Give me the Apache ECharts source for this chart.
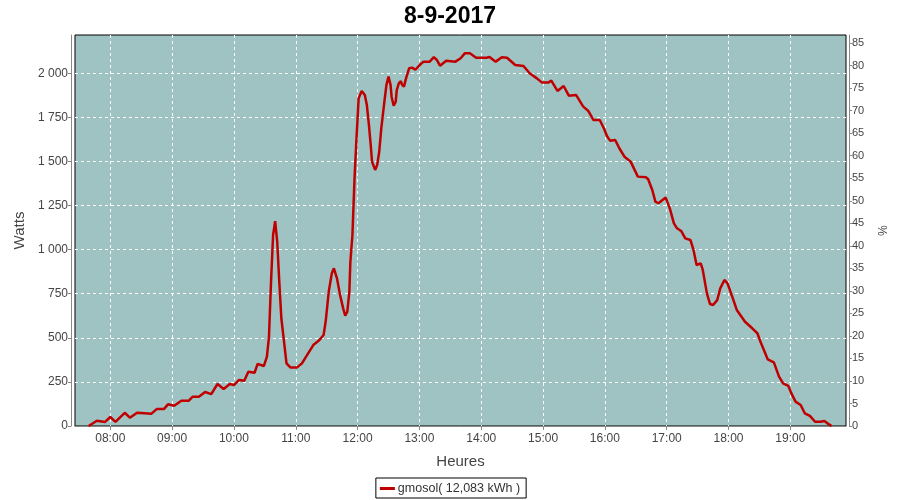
<!DOCTYPE html>
<html>
<head>
<meta charset="utf-8">
<script src="https://cdn.jsdelivr.net/npm/echarts@6/dist/echarts.min.js"></script>
<style>html,body{margin:0;padding:0;background:#fff}#c{width:900px;height:500px}</style>
</head>
<body>
<div id="c"></div>
<script>
var titleText = '8-9-2017';
var seriesName = 'gmosol( 12,083 kWh )';
var day = '2017-09-08';
var xMin = '07:25:45';
var xMax = '19:54:00';
var wattsMax = 2217;
var pctMax = 86.8;
var times = ['07:39','07:47','07:55','08:00','08:05','08:14','08:19','08:26','08:40','08:45','08:52','08:56','09:02','09:09','09:16','09:20','09:26','09:32','09:38','09:44','09:50','09:56','10:00','10:05','10:10','10:14','10:20','10:23','10:29','10:32','10:34','10:36','10:38','10:40','10:42','10:44','10:46','10:49','10:51','10:55','11:01','11:06','11:12','11:17','11:23','11:27','11:29','11:32','11:35','11:37','11:40','11:43','11:46','11:48','11:50','11:52','11:53','11:55','11:57','11:58','11:59','12:00','12:01','12:04','12:07','12:09','12:11','12:13','12:14','12:17','12:19','12:21','12:23','12:26','12:28','12:30','12:32','12:33','12:35','12:37','12:38','12:40','12:42','12:43','12:45','12:47','12:50','12:53','12:56','13:01','13:04','13:10','13:14','13:17','13:20','13:26','13:35','13:40','13:44','13:49','13:55','14:05','14:08','14:14','14:20','14:25','14:33','14:41','14:47','14:54','14:59','15:05','15:08','15:14','15:20','15:25','15:32','15:39','15:44','15:49','15:55','15:59','16:02','16:05','16:10','16:14','16:19','16:25','16:32','16:40','16:42','16:46','16:49','16:52','16:59','17:03','17:07','17:10','17:14','17:18','17:23','17:26','17:29','17:33','17:35','17:39','17:42','17:45','17:49','17:52','17:56','17:59','18:03','18:08','18:16','18:23','18:28','18:31','18:35','18:38','18:44','18:49','18:53','18:58','19:01','19:05','19:10','19:14','19:19','19:24','19:29','19:33','19:36','19:40'];
var watts = [0,30,23,51,23,75,47,75,70,96,96,123,115,143,143,166,166,193,181,238,210,238,232,261,257,308,302,352,340,393,506,818,1083,1162,1045,818,611,459,355,331,331,355,412,459,488,516,591,761,866,894,837,743,667,625,648,761,932,1083,1400,1520,1640,1745,1858,1900,1877,1820,1707,1575,1499,1452,1480,1555,1688,1839,1934,1981,1934,1867,1816,1839,1905,1943,1956,1937,1924,1971,2028,2032,2020,2051,2066,2066,2091,2075,2043,2071,2066,2085,2113,2113,2088,2088,2092,2066,2091,2088,2047,2041,2000,1971,1947,1947,1958,1900,1928,1873,1877,1811,1786,1735,1735,1688,1644,1618,1622,1575,1527,1499,1414,1410,1399,1338,1272,1263,1295,1234,1149,1121,1106,1064,1055,998,913,922,885,752,692,686,714,781,828,809,743,658,591,554,526,478,421,378,361,280,242,227,185,138,119,72,57,24,24,28,15,0];

var data = times.map(function (t, i) { return [day + ' ' + t, watts[i]]; });
var font = 'Liberation Sans';
function sp(v) { return String(Math.round(v)).replace(/\B(?=(\d{3})+(?!\d))/g, ' '); }

var chart = echarts.init(document.getElementById('c'), null, {renderer: 'canvas'});
chart.setOption({
  animation: false,
  backgroundColor: '#ffffff',
  title: {
    text: titleText, left: 'center', top: 0,
    textStyle: {fontFamily: font, fontSize: 23, fontWeight: 'bold', color: '#000'}
  },
  grid: {
    left: 75, right: 54, top: 35, bottom: 74,
    show: true, backgroundColor: '#9ec3c2', borderColor: '#000', borderWidth: 1
  },
  legend: {
    data: [seriesName], bottom: 2, left: 'center',
    borderColor: '#000', borderWidth: 1, padding: [4, 6, 3, 4], borderRadius: 0,
    icon: 'rect', itemWidth: 15, itemHeight: 3, itemGap: 4,
    textStyle: {fontFamily: font, fontSize: 12.5, color: '#333', padding: [0, 0, 0, -2]}
  },
  xAxis: {
    type: 'time',
    min: day + ' ' + xMin, max: day + ' ' + xMax,
    minInterval: 3600000, maxInterval: 3600000,
    offset: 4,
    name: 'Heures', nameLocation: 'middle', nameGap: 24,
    nameTextStyle: {fontFamily: font, fontSize: 15, color: '#444'},
    axisLine: {show: true, lineStyle: {color: '#888'}},
    axisTick: {show: true, length: 4, lineStyle: {color: '#888'}},
    axisLabel: {formatter: '{HH}:{mm}', fontFamily: font, fontSize: 12, color: '#444', margin: 3, showMinLabel: false, showMaxLabel: false},
    splitLine: {show: true, showMinLine: false, showMaxLine: false, lineStyle: {color: '#fff', type: [3, 3], width: 1}}
  },
  yAxis: [{
    type: 'value', min: 0, max: wattsMax, interval: 250,
    position: 'left', offset: 4,
    name: 'Watts', nameLocation: 'middle', nameGap: 38,
    nameTextStyle: {fontFamily: font, fontSize: 15, color: '#444'},
    axisLine: {show: true, lineStyle: {color: '#888'}},
    axisTick: {show: true, length: 3, lineStyle: {color: '#888'}},
    axisLabel: {formatter: sp, fontFamily: font, fontSize: 12, color: '#444', margin: 3, showMaxLabel: false},
    splitLine: {show: true, showMinLine: false, showMaxLine: false, lineStyle: {color: '#fff', type: [3, 3], width: 1}}
  }, {
    type: 'value', min: 0, max: pctMax, interval: 5,
    position: 'right', offset: 3,
    name: '%', nameLocation: 'middle', nameGap: 22, nameRotate: -90,
    nameTextStyle: {fontFamily: font, fontSize: 12, color: '#444'},
    axisLine: {show: true, lineStyle: {color: '#888'}},
    axisTick: {show: true, length: 3, lineStyle: {color: '#888'}},
    axisLabel: {fontFamily: font, fontSize: 11, color: '#444', margin: 3, showMaxLabel: false},
    splitLine: {show: false}
  }],
  series: [{
    name: seriesName, type: 'line', yAxisIndex: 0,
    data: data, showSymbol: false, smooth: false,
    lineStyle: {color: '#c00000', width: 2.5}, itemStyle: {color: '#c00000'}
  }]
});
</script>
</body>
</html>
